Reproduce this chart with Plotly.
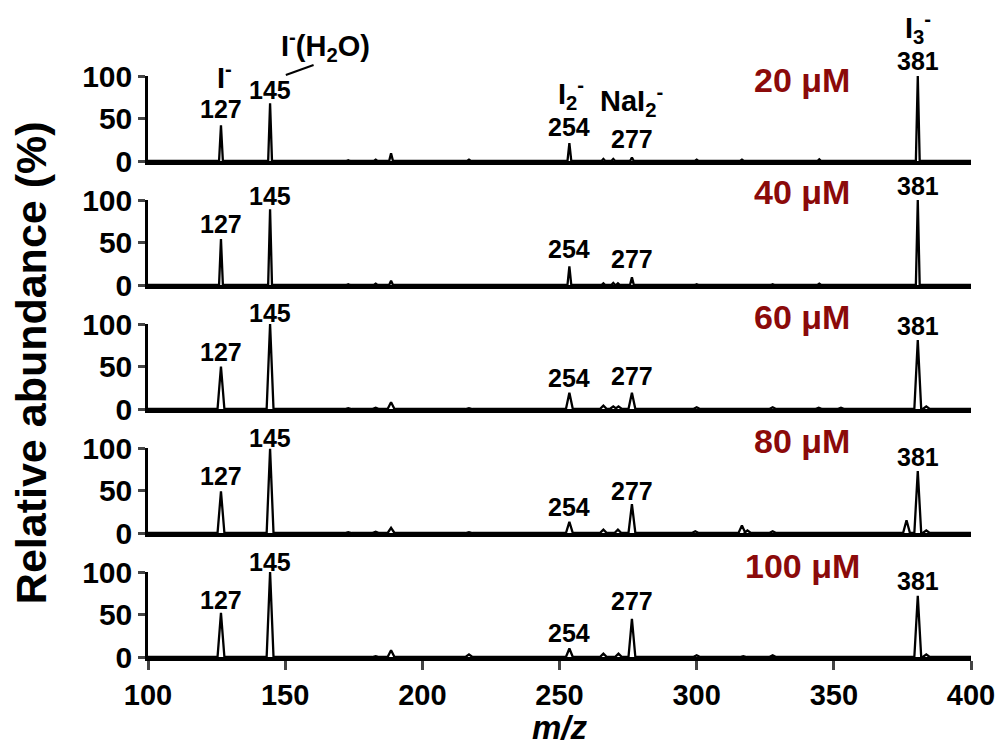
import plotly.graph_objects as go
from plotly.subplots import make_subplots

# ---------------- data ----------------
concentrations = ["20 μM", "40 μM", "60 μM", "80 μM", "100 μM"]

mz_20 = [126.6, 144.5, 173, 183, 188.6, 217, 253.6, 266, 269.6, 276.4, 300, 316.5, 344.7, 380.6]
ab_20 = [42, 68, 1, 1.5, 9, 1.5, 21, 2.5, 2.5, 4, 1.5, 1.5, 2, 100]

mz_40 = [126.6, 144.5, 173, 183, 188.6, 253.6, 266, 269.6, 271.3, 276.4, 300, 327.7, 344.7, 380.6]
ab_40 = [54, 89, 1, 1.5, 5, 22, 2, 2.5, 2, 9, 1, 1, 1.5, 100]

mz_60 = [126.6, 144.5, 173, 183, 188.6, 217, 253.6, 266, 269.6, 271.5, 276.4, 300, 327.7, 344.5, 352.6, 380.6, 383.7]
ab_60 = [50, 100, 1, 1.5, 8, 1, 19, 4, 3, 3, 19, 2, 2, 1.5, 1.5, 81, 3]

mz_80 = [126.6, 144.5, 173, 183, 188.6, 217, 253.6, 266, 271.3, 276.4, 299.5, 316.5, 318.5, 327.7, 376.5, 380.6, 383.7]
ab_80 = [49, 99, 1, 1.5, 6, 1, 13, 4, 4, 34, 2, 9, 3, 2, 15, 73, 3]

mz_100 = [126.6, 144.5, 183, 188.6, 217, 253.6, 266, 271.5, 276.4, 300, 317, 327.7, 380.6, 383.7]
ab_100 = [52, 100, 1, 8, 3, 10, 4, 4, 45, 2, 1, 2, 72, 3]

label_mz = [126.6, 144.5, 253.6, 276.4, 380.6]
label_text = ["127", "145", "254", "277", "381"]

species_text = ["I<sup>-</sup>", "I<sup>-</sup>(H<sub>2</sub>O)", "I<sub>2</sub><sup>-</sup>",
                "NaI<sub>2</sub><sup>-</sup>", "I<sub>3</sub><sup>-</sup>"]

x_ticks = [100, 150, 200, 250, 300, 350, 400]
y_ticks = [0, 50, 100]

spectra_mz = [mz_20, mz_40, mz_60, mz_80, mz_100]
spectra_ab = [ab_20, ab_40, ab_60, ab_80, ab_100]

# ---------------- layout / style (not data) ----------------
FONT = "Liberation Sans, Arial, sans-serif"
DARKRED = "#8B0A0A"
peak_halfwidth = [0.7, 0.7, 1.25, 1.25, 1.25]
label_y = [[61, 84, 40, 26, 118],
           [72, 105, 42, 31, 116],
           [67, 113, 37, 39, 98],
           [67, 112, 31, 49, 89],
           [67, 112, 28, 66, 89]]
conc_y = [95, 109, 108, 108, 107]
conc_x = 338.5
species_pos = [(127.8, 100), (164.7, 135), (254.3, 79), (276.4, 71), (380.5, 157)]

fig = make_subplots(rows=5, cols=1, shared_xaxes=True, vertical_spacing=39 / 581)

for i, (mzs, abs_) in enumerate(zip(spectra_mz, spectra_ab)):
    w = peak_halfwidth[i]
    xs, ys = [100], [0]
    for c, h in sorted(zip(mzs, abs_)):
        xs += [c - w, c, c + w]
        ys += [0, h, 0]
    xs.append(400)
    ys.append(0)
    fig.add_trace(go.Scatter(x=xs, y=ys, mode="lines",
                             line=dict(color="black", width=2.3),
                             showlegend=False, hoverinfo="skip"),
                  row=i + 1, col=1)

    yname = "y" if i == 0 else f"y{i + 1}"
    xname = "x" if i == 0 else f"x{i + 1}"
    # peak m/z labels
    for m, t, yy in zip(label_mz, label_text, label_y[i]):
        fig.add_annotation(x=m, y=yy / 100, xref=xname, yref=f"{yname} domain",
                           text=t, showarrow=False, xanchor="center", yanchor="middle",
                           font=dict(family=FONT, size=25, color="black", weight="bold"))
    # concentration label
    fig.add_annotation(x=conc_x, y=conc_y[i] / 100, xref=xname, yref=f"{yname} domain",
                       text=concentrations[i], showarrow=False, xanchor="center", yanchor="middle",
                       font=dict(family=FONT, size=34, color=DARKRED, weight="bold"))

# species labels in top panel
for t, (m, yy) in zip(species_text, species_pos):
    fig.add_annotation(x=m, y=yy / 100, xref="x", yref="y domain",
                       text=t, showarrow=False, xanchor="center", yanchor="middle",
                       font=dict(family=FONT, size=29, color="black", weight="bold"))

# leader line for I-(H2O)
fig.add_shape(type="line", xref="paper", yref="paper",
              x0=(287 - 148) / 830, y0=(657 - 75) / 581,
              x1=(315 - 148) / 830, y1=(657 - 65) / 581,
              line=dict(color="black", width=2))

for i in range(5):
    fig.update_yaxes(range=[0, 100], tickvals=y_ticks, ticks="outside", ticklen=7, tickwidth=2.5,
                     showline=True, linewidth=2.5, linecolor="black", showgrid=False, zeroline=False,
                     tickfont=dict(family=FONT, size=30, color="black", weight="bold"),
                     row=i + 1, col=1)
    fig.update_xaxes(range=[100, 400], showline=True, linewidth=3.5, linecolor="black",
                     showgrid=False, zeroline=False, row=i + 1, col=1,
                     showticklabels=(i == 4), ticks=("outside" if i == 4 else ""),
                     tickvals=x_ticks, ticklen=9, tickwidth=3,
                     tickfont=dict(family=FONT, size=29, color="black", weight="bold"))

# axis titles
fig.add_annotation(x=-0.142, y=0.506, xref="paper", yref="paper", text="Relative abundance (%)",
                   textangle=-90, showarrow=False, xanchor="center", yanchor="middle",
                   font=dict(family=FONT, size=43, color="black", weight="bold"))
fig.add_annotation(x=0.5, y=(657 - 727) / 581, xref="paper", yref="paper", text="<i>m/z</i>",
                   showarrow=False, xanchor="center", yanchor="middle",
                   font=dict(family=FONT, size=33, color="black", weight="bold"))

fig.update_layout(width=1007, height=749, margin=dict(l=148, r=29, t=76, b=92),
                  plot_bgcolor="white", paper_bgcolor="white")

fig.write_html("out.html")
